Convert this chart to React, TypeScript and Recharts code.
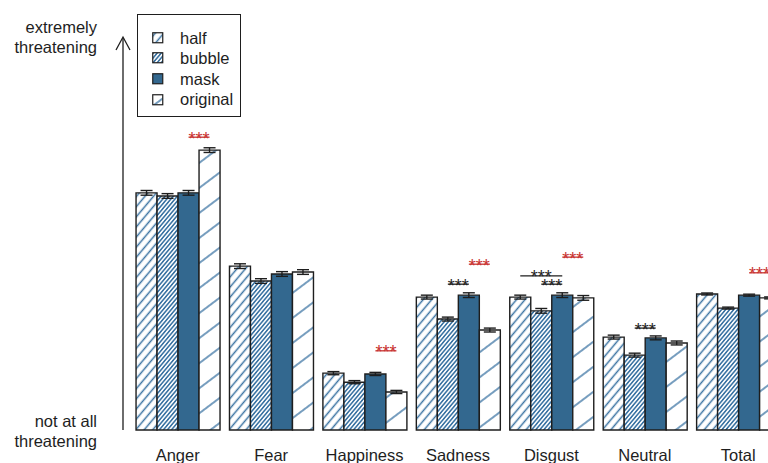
import React from "react";
import { BarChart, Bar, XAxis, YAxis, ErrorBar, LabelList, Legend } from "recharts";

const categories = ["Anger", "Fear", "Happiness", "Sadness", "Disgust", "Neutral", "Total"];

// mean threat ratings (0 = not at all, 100 = extremely)
const half = [60.5, 41.8, 14.5, 33.9, 33.9, 23.7, 34.7];
const bubble = [59.7, 38.0, 12.2, 28.3, 30.4, 19.1, 31.1];
const mask = [60.5, 39.8, 14.3, 34.4, 34.4, 23.5, 34.4];
const original = [71.4, 40.3, 9.7, 25.5, 33.7, 22.2, 33.7];

const halfErr = [0.6, 0.6, 0.4, 0.5, 0.5, 0.5, 0.25];
const bubbleErr = [0.6, 0.6, 0.4, 0.5, 0.6, 0.5, 0.25];
const maskErr = [0.6, 0.6, 0.4, 0.6, 0.6, 0.5, 0.25];
const originalErr = [0.6, 0.6, 0.4, 0.5, 0.6, 0.5, 0.25];

const seriesKeys = ["half", "bubble", "mask", "original"];

// significance brackets
const sigCategory = ["Anger", "Happiness", "Sadness", "Sadness", "Disgust", "Disgust", "Disgust", "Neutral", "Total"];
const sigFrom = ["mask", "mask", "bubble", "mask", "half", "bubble", "mask", "bubble", "mask"];
const sigTo = ["original", "original", "mask", "original", "mask", "mask", "original", "mask", "original"];
const sigLevel = [74.7, 20.2, 37.2, 42.3, 39.3, 37.2, 44.1, 26.0, 40.1];
const sigRed = [true, true, false, true, false, false, true, false, true];

const data = categories.map((name, i) => ({
  name,
  half: half[i],
  bubble: bubble[i],
  mask: mask[i],
  original: original[i],
  halfErr: halfErr[i],
  bubbleErr: bubbleErr[i],
  maskErr: maskErr[i],
  originalErr: originalErr[i],
}));

const INK = "#1e1e1e";
const BLUE = "#33688f";
const HATCH = "#3c74a3";
const RED = "#c8312f";
const FONT = "'Liberation Sans', Arial, sans-serif";

const fills: Record<string, string> = {
  half: "url(#pHalf)",
  bubble: "url(#pBubble)",
  mask: BLUE,
  original: "url(#pOriginal)",
};

function YTick(props: any) {
  const { x, y, payload } = props;
  const top = payload.value === 100;
  const lines = top ? ["extremely", "threatening"] : ["not at all", "threatening"];
  const ax = x + 26;
  return (
    <g>
      <text x={x} y={y} textAnchor="end" fontSize={16.5} fill={INK} fontFamily={FONT}>
        <tspan x={x} dy={top ? -5 : -3}>{lines[0]}</tspan>
        <tspan x={x} dy={19.5}>{lines[1]}</tspan>
      </text>
      {top && (
        <polyline
          points={`${ax - 7},${y + 12} ${ax},${y - 1} ${ax + 7},${y + 12}`}
          fill="none"
          stroke={INK}
          strokeWidth={1.3}
        />
      )}
    </g>
  );
}

function SigMarks(props: any) {
  const vb = props.viewBox || props;
  const ci = categories.indexOf(props.value);
  if (ci < 0 || !vb) return null;
  const { x, y, width, height } = vb;
  const unit = height / mask[ci];
  const base = y + height;
  const centre = (k: string) => x + width / 2 + (seriesKeys.indexOf(k) - 2) * width;
  return (
    <g>
      {sigCategory.map((c, i) => {
        if (c !== categories[ci]) return null;
        const x1 = centre(sigFrom[i]);
        const x2 = centre(sigTo[i]);
        const ly = base - sigLevel[i] * unit;
        const col = sigRed[i] ? RED : INK;
        return (
          <g key={i}>
            <line x1={x1} y1={ly} x2={x2} y2={ly} stroke={col} strokeWidth={1.3} />
            <text x={(x1 + x2) / 2} y={ly + 7.5} textAnchor="middle" fontSize={18} fill={col} fontFamily={FONT}>
              ***
            </text>
          </g>
        );
      })}
    </g>
  );
}

function LegendBox() {
  return (
    <div
      style={{
        width: 104,
        height: 103,
        boxSizing: "border-box",
        border: `1.5px solid ${INK}`,
        paddingTop: 12.5,
        background: "#fff",
        fontFamily: FONT,
        fontSize: 16.5,
        color: INK,
      }}
    >
      {seriesKeys.map((k) => (
        <div key={k} style={{ height: 20.6, display: "flex", alignItems: "center" }}>
          <svg width={12} height={12} style={{ marginLeft: 14, marginRight: 16, display: "block" }}>
            <rect x={0.75} y={0.75} width={10} height={10} fill={fills[k]} stroke={INK} strokeWidth={1.2} />
          </svg>
          <span style={{ lineHeight: "20.6px" }}>{k}</span>
        </div>
      ))}
    </div>
  );
}

export default function App() {
  return (
    <div
      style={{
        position: "absolute",
        left: 0,
        top: 0,
        width: 768,
        height: 463,
        overflow: "hidden",
        background: "#fff",
        fontFamily: FONT,
      }}
    >
      <BarChart
        width={800}
        height={463}
        data={data}
        margin={{ top: 38, right: 15, bottom: 0, left: 0 }}
        barCategoryGap="5.4%"
        barGap={0}
      >
        <defs>
          <pattern id="pHalf" patternUnits="userSpaceOnUse" width={6.5} height={6.5} patternTransform="rotate(40)">
            <rect width={6.5} height={6.5} fill="#fff" />
            <line x1={3.25} y1={0} x2={3.25} y2={6.5} stroke={HATCH} strokeWidth={1.5} />
          </pattern>
          <pattern id="pBubble" patternUnits="userSpaceOnUse" width={3.1} height={3.1} patternTransform="rotate(40)">
            <rect width={3.1} height={3.1} fill="#fff" />
            <line x1={1.55} y1={0} x2={1.55} y2={3.1} stroke={HATCH} strokeWidth={1.6} />
          </pattern>
          <pattern id="pOriginal" patternUnits="userSpaceOnUse" width={20} height={20} patternTransform="rotate(53)">
            <rect width={20} height={20} fill="#fff" />
            <line x1={10} y1={0} x2={10} y2={20} stroke={HATCH} strokeWidth={1.4} />
          </pattern>
        </defs>
        <XAxis
          dataKey="name"
          axisLine={false}
          tickLine={false}
          tickSize={0}
          tickMargin={19}
          height={33}
          padding={{ left: 8, right: 0 }}
          interval={0}
          tick={{ fontSize: 16.5, fill: INK, fontFamily: FONT }}
        />
        <YAxis
          domain={[0, 100]}
          ticks={[0, 100]}
          interval={0}
          width={123}
          tickLine={false}
          tickSize={0}
          tickMargin={26}
          axisLine={{ stroke: INK, strokeWidth: 1.3 }}
          tick={<YTick />}
        />
        <Legend
          layout="vertical"
          align="center"
          verticalAlign="middle"
          wrapperStyle={{ left: 137, top: 14, width: 104, height: 103 }}
          content={<LegendBox />}
        />
        <Bar dataKey="half" name="half" fill={fills.half} stroke={INK} strokeWidth={1.4} isAnimationActive={false}>
          <ErrorBar dataKey="halfErr" direction="y" width={6} stroke={INK} strokeWidth={1.4} isAnimationActive={false} />
        </Bar>
        <Bar dataKey="bubble" name="bubble" fill={fills.bubble} stroke={INK} strokeWidth={1.4} isAnimationActive={false}>
          <ErrorBar dataKey="bubbleErr" direction="y" width={6} stroke={INK} strokeWidth={1.4} isAnimationActive={false} />
        </Bar>
        <Bar dataKey="mask" name="mask" fill={fills.mask} stroke={INK} strokeWidth={1.4} isAnimationActive={false}>
          <ErrorBar dataKey="maskErr" direction="y" width={6} stroke={INK} strokeWidth={1.4} isAnimationActive={false} />
          <LabelList dataKey="name" content={<SigMarks />} />
        </Bar>
        <Bar dataKey="original" name="original" fill={fills.original} stroke={INK} strokeWidth={1.4} isAnimationActive={false}>
          <ErrorBar dataKey="originalErr" direction="y" width={6} stroke={INK} strokeWidth={1.4} isAnimationActive={false} />
        </Bar>
      </BarChart>
    </div>
  );
}
